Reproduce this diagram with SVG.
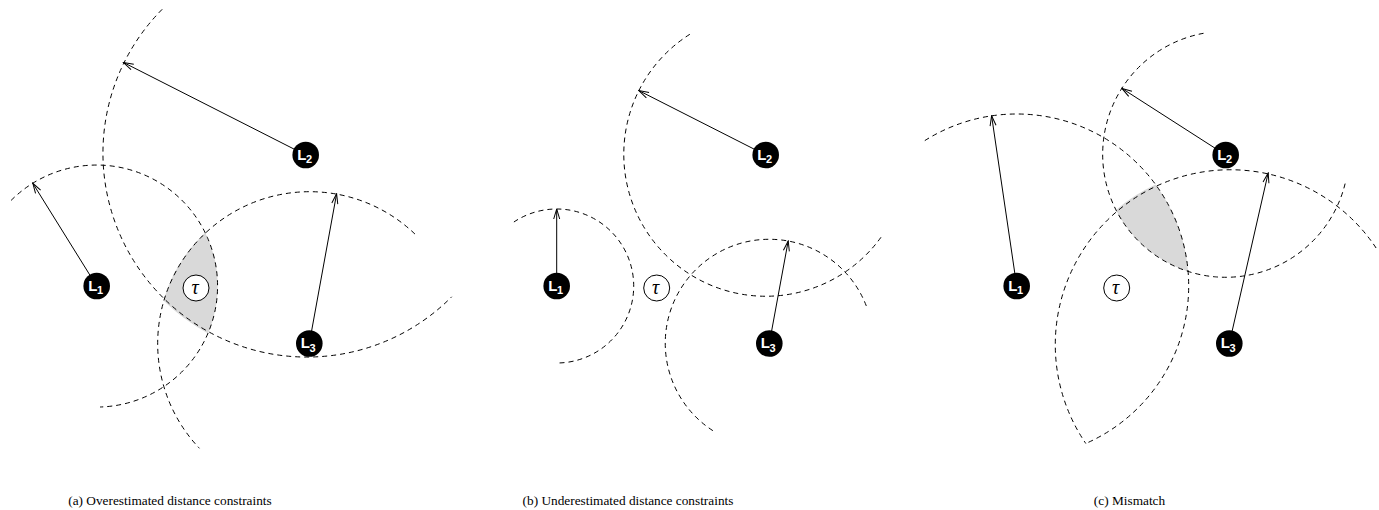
<svg xmlns="http://www.w3.org/2000/svg" width="1379" height="510" viewBox="0 0 1379 510">
<style>
.rng{fill:none;stroke:#000;stroke-width:1;stroke-dasharray:5 4}
.shade{fill:#d9d9d9;stroke:none}
.arr{fill:none;stroke:#000;stroke-width:1;marker-end:url(#ah)}
.node{fill:#000}
.lab{font-family:"Liberation Sans",Arial,sans-serif;font-weight:bold;fill:#fff;font-size:15px}
.sub{font-size:11px}
.tauc{fill:#fff;stroke:#000;stroke-width:1}
.tau{font-family:"Liberation Serif","Times New Roman",serif;font-style:italic;font-size:20px;fill:#000;text-anchor:middle}
.cap{font-family:"Liberation Serif","Times New Roman",serif;font-size:13.3px;fill:#000;text-anchor:middle}
</style>
<defs>
<marker id="ah" markerWidth="12" markerHeight="8" refX="0" refY="0" viewBox="-11 -4 12 8" orient="auto" markerUnits="userSpaceOnUse">
<path d="M-10,-3 L0,0 L-10,3" fill="none" stroke="#000" stroke-width="1"/>
</marker>
</defs>
<rect width="1379" height="510" fill="#fff"/>
<g id="regions">
<path class="shade" d="M205.2,232.5 A152,152 0 0 0 163.4,300.5 A204,204 0 0 0 208.1,333.4 A121,121 0 0 0 205.2,232.5 Z"/>
<path class="shade" d="M1116.0,209.9 A175,175 0 0 1 1155.6,184.5 A172,172 0 0 1 1188.1,271.4 A123,123 0 0 1 1116.0,209.9 Z"/>
</g>
<g id="ranges">
<path class="rng" d="M11.1,200.4 A121,121 0 1 1 100.1,407"/>
<path class="rng" d="M162.2,9.3 A204,204 0 1 0 451.7,296.8"/>
<path class="rng" d="M414.9,234 A152,152 0 0 0 199.4,448.3"/>
<path class="rng" d="M513.9,222 A77,77 0 1 1 556.7,363"/>
<path class="rng" d="M689.8,34.3 A142,142 0 1 0 881.9,236"/>
<path class="rng" d="M866.3,305.9 A104,104 0 1 0 714.5,431.7"/>
<path class="rng" d="M924.8,140.6 A172,172 0 1 1 1085.8,443.5"/>
<path class="rng" d="M1203.5,33.3 A123,123 0 1 0 1345.8,180.7"/>
<path class="rng" d="M1376.1,248 A175,175 0 1 0 1085.8,443.5"/>
</g>
<g id="connectors">
<line class="arr" x1="96.7" y1="286" x2="32.8" y2="183.3"/>
<line class="arr" x1="305.7" y1="155" x2="123.5" y2="62.5"/>
<line class="arr" x1="309.3" y1="343.5" x2="336.6" y2="193.8"/>
<line class="arr" x1="556.7" y1="286" x2="556.7" y2="209"/>
<line class="arr" x1="765.7" y1="155" x2="638.8" y2="90.6"/>
<line class="arr" x1="769.3" y1="343.5" x2="788.2" y2="241"/>
<line class="arr" x1="1016.7" y1="286" x2="991.6" y2="115.8"/>
<line class="arr" x1="1225.7" y1="155" x2="1121.9" y2="88.4"/>
<line class="arr" x1="1229.3" y1="343.5" x2="1268.2" y2="172.9"/>
</g>
<g id="a-L1"><circle class="node" cx="96.7" cy="286" r="13.3"/><text class="lab" x="88.2" y="290.5">L<tspan class="sub" x="97" y="294">1</tspan></text></g>
<g id="a-L2"><circle class="node" cx="305.7" cy="155" r="13.3"/><text class="lab" x="297.2" y="159.5">L<tspan class="sub" x="306" y="163">2</tspan></text></g>
<g id="a-L3"><circle class="node" cx="309.3" cy="343.5" r="13.3"/><text class="lab" x="300.8" y="348">L<tspan class="sub" x="309.6" y="351.5">3</tspan></text></g>
<g id="a-tau"><circle class="tauc" cx="196" cy="288" r="13"/><text class="tau" x="195" y="294">τ</text></g>
<g id="b-L1"><circle class="node" cx="556.7" cy="286" r="13.3"/><text class="lab" x="548.2" y="290.5">L<tspan class="sub" x="557" y="294">1</tspan></text></g>
<g id="b-L2"><circle class="node" cx="765.7" cy="155" r="13.3"/><text class="lab" x="757.2" y="159.5">L<tspan class="sub" x="766" y="163">2</tspan></text></g>
<g id="b-L3"><circle class="node" cx="769.3" cy="343.5" r="13.3"/><text class="lab" x="760.8" y="348">L<tspan class="sub" x="769.6" y="351.5">3</tspan></text></g>
<g id="b-tau"><circle class="tauc" cx="656.7" cy="288" r="13"/><text class="tau" x="655.7" y="294">τ</text></g>
<g id="c-L1"><circle class="node" cx="1016.7" cy="286" r="13.3"/><text class="lab" x="1008.2" y="290.5">L<tspan class="sub" x="1017" y="294">1</tspan></text></g>
<g id="c-L2"><circle class="node" cx="1225.7" cy="155" r="13.3"/><text class="lab" x="1217.2" y="159.5">L<tspan class="sub" x="1226" y="163">2</tspan></text></g>
<g id="c-L3"><circle class="node" cx="1229.3" cy="343.5" r="13.3"/><text class="lab" x="1220.8" y="348">L<tspan class="sub" x="1229.6" y="351.5">3</tspan></text></g>
<g id="c-tau"><circle class="tauc" cx="1116.7" cy="288" r="13"/><text class="tau" x="1115.7" y="294">τ</text></g>
<g id="captions">
<text class="cap" x="170" y="505">(a) Overestimated distance constraints</text>
<text class="cap" x="628" y="505">(b) Underestimated distance constraints</text>
<text class="cap" x="1129.5" y="505">(c) Mismatch</text>
</g>
</svg>
